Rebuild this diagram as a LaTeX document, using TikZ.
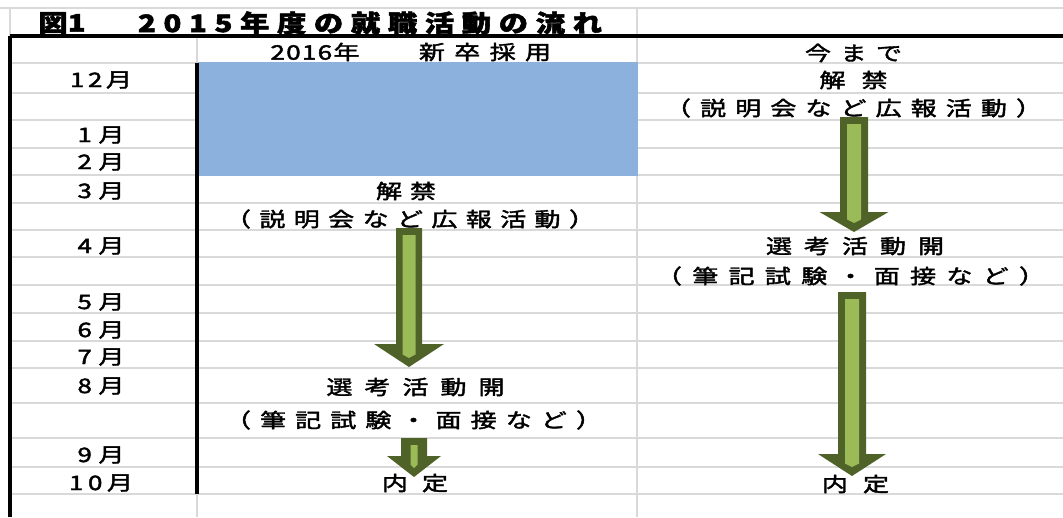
\documentclass[tikz,border=0pt]{standalone}
\usepackage{fontspec}
\usepackage{graphicx}
\newfontfamily\jp[FakeBold=1.8]{Noto Sans CJK JP}
\newfontfamily\jpt[FakeBold=2]{Noto Sans CJK JP}
\usetikzlibrary{calc}
\definecolor{gridgray}{HTML}{D9D9D9}
\definecolor{cellblue}{HTML}{8DB1DD}
\definecolor{olivedark}{HTML}{4F6228}
\definecolor{olivelight}{HTML}{9BBB59}
\newcommand\charscale{1.3}
\ExplSyntaxOn
\NewDocumentCommand\spread{mm}{\hbox_to_wd:nn{#1}{\tl_map_inline:nn{#2}{\scalebox{\charscale}[1]{##1}\hfil}\unskip}}
\ExplSyntaxOff
% #1 start, #2 end, #3 shaft half width, #4 head half width, #5 head length, #6 inner half width
\newcommand\blockarrow[6]{%
  \fill[olivedark] ($(#1)+(-#3,0)$) -- ($(#1)+(#3,0)$) -- ($(#2)+(#3,-#5)$) -- ($(#2)+(#4,-#5)$) -- (#2) -- ($(#2)+(-#4,-#5)$) -- ($(#2)+(-#3,-#5)$) -- cycle;
  \fill[olivelight] ($(#1)+(-#6,7)$) -- ($(#1)+(#6,7)$) -- ($(#2)+(#6,-12.5)$) -- ($(#2)+(0,-9)$) -- ($(#2)+(-#6,-12.5)$) -- cycle;}
\begin{document}
\begin{tikzpicture}[x=1pt,y=-1pt,
  gridline/.style={draw=gridgray,line width=2.4pt},
  blackline/.style={draw=black,line width=3.6pt},
  txt/.style={inner sep=0pt,anchor=center,font=\jp\fontsize{20}{22}\selectfont},
  ttl/.style={inner sep=0pt,anchor=center,font=\jpt\fontsize{24}{26}\selectfont\bfseries\renewcommand\charscale{1.22}}]
\useasboundingbox (0,0) rectangle (1063,517);
\fill[white] (0,0) rectangle (1063,517);
% horizontal grid lines
\draw[gridline] (0,8) -- (1063,8);
\foreach \yy in {63,93,120,148,175,203,230,257,285,313,341,368,403,438,467,494}
  \draw[gridline] (10,\yy) -- (1063,\yy);
% vertical grid lines
\draw[gridline] (10,8) -- (10,36);
\draw[gridline] (197,36) -- (197,63);
\draw[gridline] (197,494) -- (197,517);
\draw[gridline] (637,8) -- (637,517);
% blue cell block
\fill[cellblue] (198,62) rectangle (638,176);
% black borders
\draw[blackline] (10,36) -- (1063,36);
\draw[blackline] (10,36) -- (10,517);
\draw[blackline] (197,63) -- (197,494);
% title
\node[ttl] (fig) at (62,23) {\spread{47pt}{図1}};
\node[ttl] (title) at (370,23) {\spread{464pt}{2015年度の就職活動の流れ}};
% headers
\node[txt] (hyear) at (315,52) {\spread{89pt}{2016年}};
\node[txt] (hnew) at (485,52) {\spread{132pt}{新卒採用}};
\node[txt] (hold) at (853.5,53) {\spread{97pt}{今まで}};
% months
\node[txt] (m12) at (101,80) {\spread{62pt}{12月}};
\node[txt] (m1) at (101,135) {\spread{47pt}{1月}};
\node[txt] (m2) at (101,162) {\spread{47pt}{2月}};
\node[txt] (m3) at (101,191) {\spread{47pt}{3月}};
\node[txt] (m4) at (101,246) {\spread{47pt}{4月}};
\node[txt] (m5) at (101,302) {\spread{47pt}{5月}};
\node[txt] (m6) at (101,330) {\spread{47pt}{6月}};
\node[txt] (m7) at (101,357) {\spread{47pt}{7月}};
\node[txt] (m8) at (101,386) {\spread{47pt}{8月}};
\node[txt] (m9) at (101,455) {\spread{47pt}{9月}};
\node[txt] (m10) at (101,483) {\spread{64pt}{10月}};
% 2016 column
\node[txt] (kaikinA) at (406,191) {\spread{60pt}{解禁}};
\node[txt] (pubA) at (410,219) {\spread{370pt}{（説明会など広報活動）}};
\node[txt] (selA) at (415.5,387) {\spread{178pt}{選考活動開}};
\node[txt] (examA) at (413.5,420) {\spread{377pt}{（筆記試験・面接など）}};
\node[txt] (naiteiA) at (415,483) {\spread{66pt}{内定}};
% previous column
\node[txt] (kaikinB) at (853.5,80) {\spread{68pt}{解禁}};
\node[txt] (pubB) at (853.5,108) {\spread{377pt}{（説明会など広報活動）}};
\node[txt] (selB) at (855,246) {\spread{178pt}{選考活動開}};
\node[txt] (examB) at (850.5,276) {\spread{389pt}{（筆記試験・面接など）}};
\node[txt] (naiteiB) at (855.5,484) {\spread{67pt}{内定}};
% arrows
\coordinate (a1s) at (409,228); \coordinate (a1e) at (409,367);
\coordinate (a2s) at (414,438); \coordinate (a2e) at (414,477);
\coordinate (a3s) at (854,117); \coordinate (a3e) at (854,232);
\coordinate (a4s) at (852,292); \coordinate (a4e) at (852,476);
\blockarrow{a1s}{a1e}{13}{35}{23}{6.5}
\blockarrow{a2s}{a2e}{13}{27}{21}{3.5}
\blockarrow{a3s}{a3e}{14}{34.5}{20}{7}
\blockarrow{a4s}{a4e}{14}{34}{22}{7}
\end{tikzpicture}
\end{document}
